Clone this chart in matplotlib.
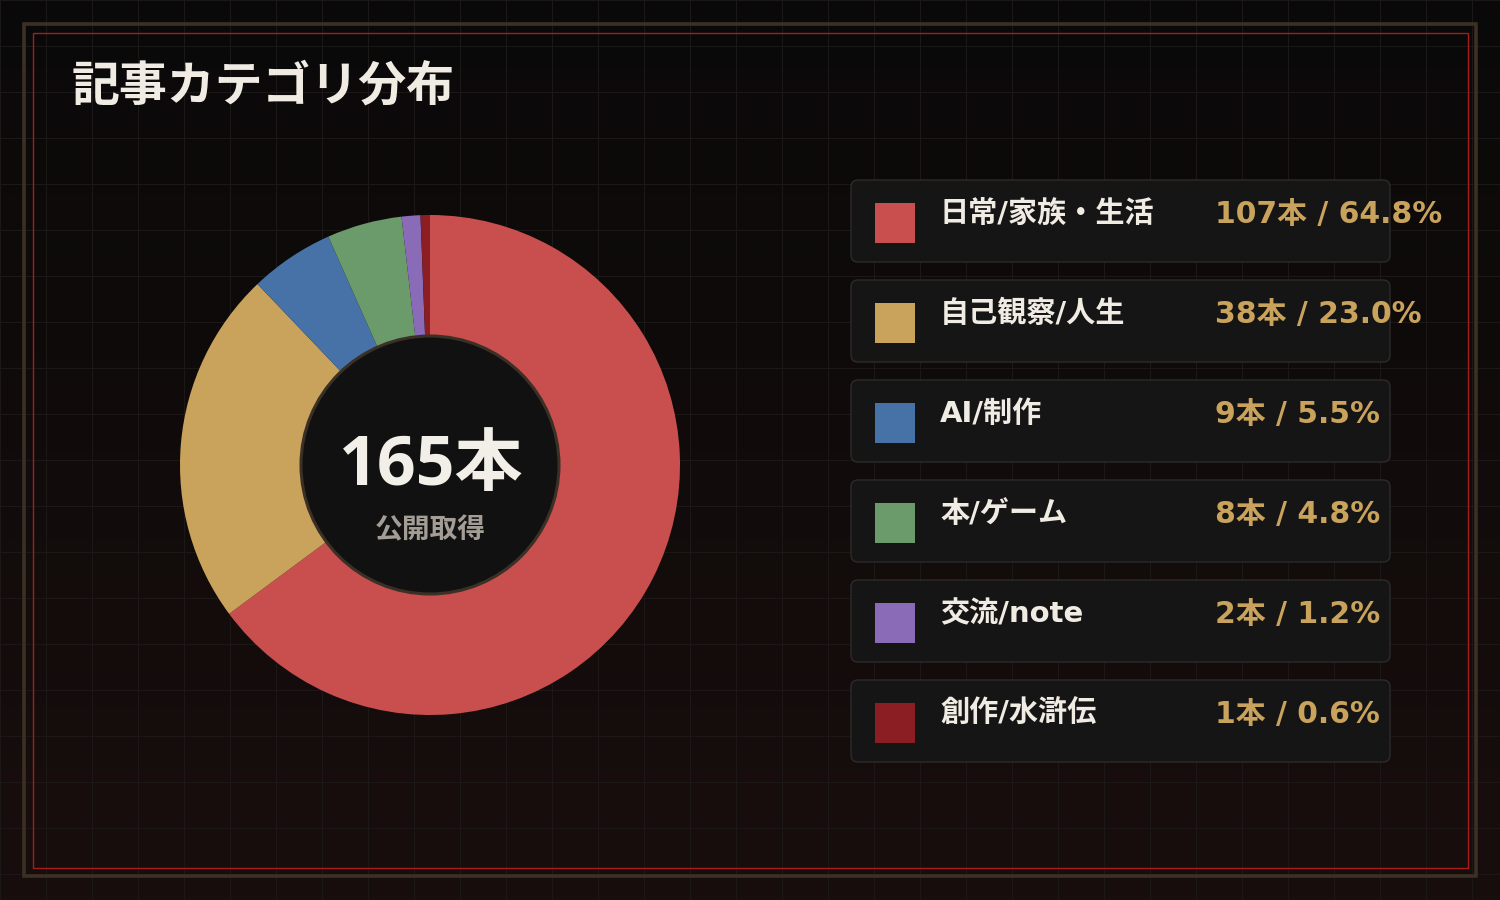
import matplotlib
matplotlib.use("Agg")
import matplotlib.pyplot as plt
import numpy as np
from matplotlib.patches import FancyBboxPatch, Rectangle, Circle
from matplotlib.colors import LinearSegmentedColormap

FAM_C = ['Open Sans', 'Noto Sans CJK JP', 'DejaVu Sans']
FAM_L = ['DejaVu Sans', 'Noto Sans CJK JP']
plt.rcParams['font.family'] = FAM_C

# ---- data ----
title = "記事カテゴリ分布"
categories = ["日常/家族・生活", "自己観察/人生", "AI/制作", "本/ゲーム", "交流/note", "創作/水滸伝"]
counts = [107, 38, 9, 8, 2, 1]
colors = ["#c94f4f", "#c9a35c", "#4672a8", "#6b9a6b", "#8a6bb8", "#8b1e23"]
unit = "本"
center_sub = "公開取得"

total = sum(counts)

W, H = 1500, 900
fig = plt.figure(figsize=(15, 9), dpi=100)
ax = fig.add_axes([0, 0, 1, 1])
ax.set_axis_off()

def Y(y):
    return H - y

cmap = LinearSegmentedColormap.from_list("bg", ["#0a0909", "#180e0d"])
grad = np.linspace(0, 1, 256).reshape(-1, 1)
ax.imshow(grad, cmap=cmap, extent=(0, W, 0, H), aspect='auto', zorder=0,
          interpolation='bilinear', origin='upper')

for gx in np.arange(0, W + 1, 46):
    ax.plot([gx, gx], [0, H], color="#1b1817", lw=0.8, zorder=1)
for gy in np.arange(0, H + 1, 46):
    ax.plot([0, W], [Y(gy), Y(gy)], color="#1b1817", lw=0.8, zorder=1)

ax.add_patch(Rectangle((24, Y(876)), 1452, 852, fill=False, ec="#3c3024", lw=2.6, zorder=2))
ax.add_patch(Rectangle((32.5, Y(867.5)), 1435, 835, fill=False, ec="#a81c1c", lw=1.0, zorder=2))

ax.text(72, Y(88), title, fontsize=34.5, fontweight='bold', color="#f0ece4",
        ha='left', va='center', zorder=5, family=FAM_C)

cx, cy = 430, 465
wedges, _ = ax.pie(counts, colors=colors, startangle=90, counterclock=False,
                   center=(cx, Y(cy)), radius=250, frame=True,
                   wedgeprops=dict(linewidth=0))
for w in wedges:
    w.set_zorder(3)
ax.add_patch(Circle((cx, Y(cy)), 129, fc="#111111", ec="#3b3026", lw=2.2, zorder=4))
ax.text(cx + 1, Y(467), f"{total}{unit}", fontsize=49, fontweight='bold', color="#f2efe8",
        ha='center', va='center', zorder=5, family=FAM_C)
ax.text(cx, Y(531), center_sub, fontsize=20, fontweight='bold', color="#a39d96",
        ha='center', va='center', zorder=5, family=FAM_C)

for i, (cat, n, c) in enumerate(zip(categories, counts, colors)):
    top = 180 + i * 100
    ax.add_patch(FancyBboxPatch((851, Y(top + 82)), 539, 82,
                                boxstyle="round,pad=0,rounding_size=7",
                                fc="#161515", ec="#2e2b2a", lw=1.0, zorder=3))
    ax.add_patch(Rectangle((875, Y(243) - i * 100), 40, 40, fc=c, ec='none', zorder=4))
    ax.text(940, Y(top + 34), cat, fontsize=21, fontweight='bold', color="#f0ece4",
            ha='left', va='center', zorder=5, family=FAM_L)
    pct = n / total * 100
    ax.text(1215, Y(top + 34), f"{n}{unit} / {pct:.1f}%", fontsize=21.5, fontweight='bold',
            color="#c9a35c", ha='left', va='center', zorder=5, family=FAM_L)

ax.set_xlim(0, W)
ax.set_ylim(0, H)
ax.set_aspect('auto')
fig.savefig("out.png", dpi=100, facecolor="#0a0909")
